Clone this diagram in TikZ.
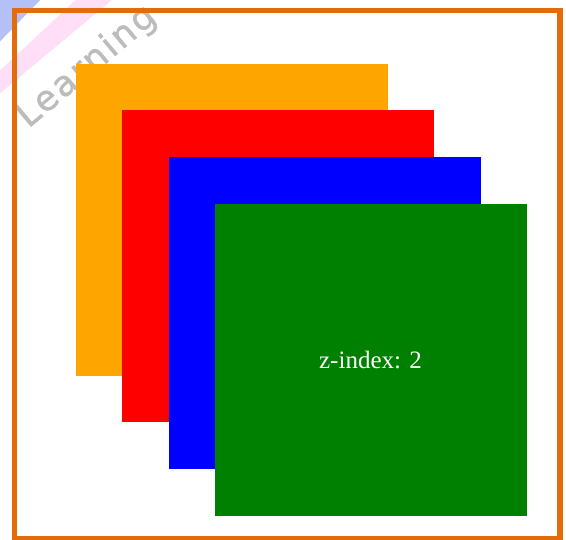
\documentclass[tikz,border=0pt]{standalone}
\usepackage{fontspec}
\setmainfont{Liberation Serif}
\newfontfamily\wmfont[LetterSpace=7,FakeBold=1.3]{DejaVu Sans}
\definecolor{frameor}{RGB}{227,108,10}
\definecolor{sqorange}{RGB}{255,165,0}
\definecolor{sqred}{RGB}{255,0,0}
\definecolor{sqblue}{RGB}{0,0,255}
\definecolor{sqgreen}{RGB}{0,128,0}
\definecolor{wmpink}{RGB}{255,222,248}
\definecolor{wmblue}{RGB}{180,192,248}
\definecolor{wmgrey}{RGB}{188,188,188}
\tikzset{
  sq/.style={draw=none, inner sep=0pt, minimum width=312pt, minimum height=312pt},
  lbl/.style={text=white, font=\fontsize{25}{30}\selectfont, inner sep=0pt}
}
\begin{document}
\begin{tikzpicture}[x=1pt,y=-1pt]
\useasboundingbox (0,0) rectangle (566,540);
\fill[white] (0,0) rectangle (566,540);
\begin{scope}
\clip (0,0) rectangle (566,540);
% watermark
\fill[wmblue] (-20,62) -- (45,-5) -- (-20,-5) -- cycle;
\fill[wmpink] (-20,89) -- (81,-5) -- (118,-5) -- (-20,110) -- cycle;
\node[text=wmgrey, font=\wmfont\fontsize{35}{42}\selectfont, rotate=40, inner sep=0pt] (wm) at (87,67) {Learning};
\end{scope}
% frame
\draw[frameor, line width=5.5pt] (14.5,10.5) rectangle (560,539);
% squares
\node[sq, fill=sqorange] (o) at (232,220) {};
\node[sq, fill=sqred] (r) at (278,266) {};
\node[sq, fill=sqblue] (b) at (325,313) {};
\node[sq, fill=sqgreen] (g) at (370.5,360) {};
\node[lbl] (t) at (g.center) {z-index: 2};
\end{tikzpicture}
\end{document}
